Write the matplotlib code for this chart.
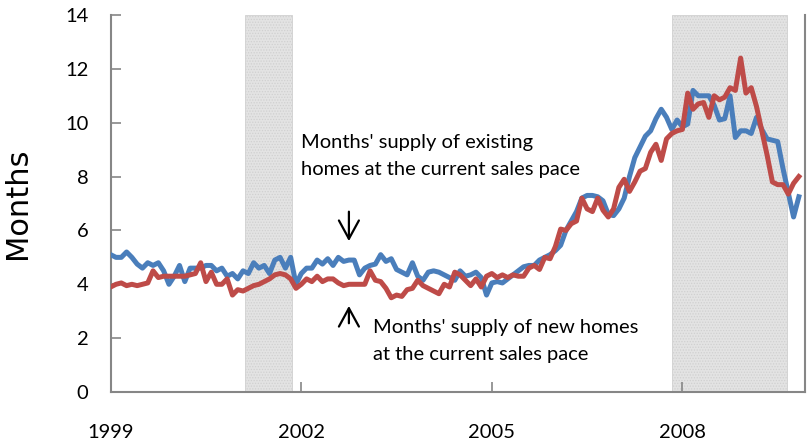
import numpy as np
import matplotlib
matplotlib.use("Agg")
import matplotlib.pyplot as plt

# Monthly values, Jan 1999 onwards
existing = [
    5.1, 5.0, 5.0, 5.2, 5.0, 4.75, 4.6, 4.8, 4.7, 4.8, 4.5, 4.0,
    4.3, 4.7, 4.1, 4.6, 4.6, 4.6, 4.7, 4.7, 4.5, 4.6, 4.3, 4.4,
    4.2, 4.5, 4.4, 4.8, 4.6, 4.7, 4.4, 4.9, 5.0, 4.6, 5.0, 4.0,
    4.4, 4.6, 4.6, 4.9, 4.75, 4.95, 4.7, 5.0, 4.85, 4.9, 4.9, 4.35,
    4.6, 4.7, 4.75, 5.1, 4.85, 4.95, 4.55, 4.45, 4.35, 4.8, 4.3, 4.15,
    4.45, 4.5, 4.45, 4.35, 4.25, 4.15, 4.5, 4.3, 4.35, 4.45, 4.25, 3.6,
    4.05, 4.1, 4.05, 4.2, 4.35, 4.5, 4.65, 4.7, 4.7, 4.9, 5.0, 5.1,
    5.25, 5.45, 6.0, 6.35, 6.7, 7.2, 7.3, 7.3, 7.25, 7.1, 6.6, 6.55,
    6.8, 7.2, 8.0, 8.7, 9.1, 9.5, 9.7, 10.15, 10.5, 10.2, 9.75, 10.1,
    9.85, 9.95, 11.2, 11.0, 11.0, 11.0, 10.65, 10.1, 10.15, 11.0, 9.45, 9.7,
    9.7, 9.6, 10.2, 9.75, 9.4, 9.35, 9.3, 8.3, 7.4, 6.5, 7.25,
]
new_homes = [
    3.9, 4.0, 4.05, 3.95, 4.0, 3.95, 4.0, 4.05, 4.5, 4.25, 4.3, 4.3,
    4.3, 4.3, 4.3, 4.35, 4.4, 4.8, 4.1, 4.45, 4.0, 4.0, 4.2, 3.6,
    3.8, 3.75, 3.85, 3.95, 4.0, 4.1, 4.2, 4.35, 4.4, 4.35, 4.2, 3.85,
    4.0, 4.2, 4.1, 4.3, 4.1, 4.2, 4.2, 4.05, 3.95, 4.0, 4.0, 4.0,
    4.0, 4.5, 4.15, 4.1, 3.85, 3.5, 3.6, 3.55, 3.8, 3.85, 4.15, 3.95,
    3.85, 3.75, 3.65, 4.0, 3.9, 4.45, 4.35, 4.15, 3.95, 4.2, 3.9, 4.3,
    4.4, 4.25, 4.35, 4.25, 4.35, 4.3, 4.3, 4.6, 4.7, 4.55, 5.0, 4.95,
    5.4, 6.05, 6.0, 6.25, 6.35, 7.2, 6.8, 6.7, 7.2, 6.75, 6.5, 6.8,
    7.6, 7.9, 7.45, 7.8, 8.2, 8.3, 8.9, 9.2, 8.6, 9.4, 9.6, 9.7,
    9.75, 11.1, 10.5, 10.7, 10.75, 10.2, 11.0, 10.85, 10.95, 11.3, 11.2, 12.4,
    11.1, 11.3, 10.6, 9.7, 8.8, 7.8, 7.7, 7.7, 7.35, 7.75, 8.0,
]
recessions = [(2001.11, 2001.85), (2007.83, 2009.64)]
year_ticks = [1999, 2002, 2005, 2008]
y_ticks = [0, 2, 4, 6, 8, 10, 12, 14]

months = 1999 + np.arange(len(existing)) / 12.0

plt.rcParams["hatch.color"] = "#c4c4c4"
plt.rcParams["hatch.linewidth"] = 0.6

fig = plt.figure(figsize=(8.11, 4.44), dpi=100)
ax = fig.add_axes([0.1365, 0.1171, 0.8561, 0.8491])

# recession bands
for start, end in recessions:
    ax.axvspan(start, end, facecolor="#e3e3e3", edgecolor="#d0d0d0",
               hatch="......", lw=0.6, zorder=0)

ax.plot(months, existing, color="#4a7ebb", lw=3.6, solid_joinstyle="round", zorder=3)
ax.plot(months, new_homes, color="#be4b48", lw=3.6, solid_joinstyle="round", zorder=4)

ax.set_xlim(1999, 2009.93)
ax.set_ylim(0, 14)
ax.set_xticks(year_ticks)
ax.set_yticks(y_ticks)

tick_font = {"family": "Lato", "size": 14.5}
ax.set_xticklabels([str(y) for y in year_ticks], fontdict=tick_font)
ax.set_yticklabels([str(v) for v in y_ticks], fontdict=tick_font)
ax.tick_params(axis="x", direction="in", length=7, width=1.2, color="#868686", pad=23)
ax.tick_params(axis="y", direction="in", length=7, width=1.2, color="#868686", pad=16)

ax.spines["top"].set_visible(False)
for side in ["left", "bottom", "right"]:
    ax.spines[side].set_color("#868686")
    ax.spines[side].set_linewidth(1.5)

ax.set_ylabel("Months", fontsize=22, family="DejaVu Sans")
ax.yaxis.set_label_coords(-0.113, 0.5)

note_font = {"family": "Lato", "size": 14.5}
ax.text(2002.0, 8.76, "Months' supply of existing\nhomes at the current sales pace",
        fontdict=note_font, va="center", ha="left", linespacing=1.7)
ax.text(2003.13, 1.88, "Months' supply of new homes\nat the current sales pace",
        fontdict=note_font, va="center", ha="left", linespacing=1.7)

arrow_style = dict(arrowstyle="->,head_length=0.55,head_width=0.3",
                   color="black", lw=1.6, mutation_scale=24)
ax.annotate("", xy=(2002.75, 5.5), xytext=(2002.75, 6.8), arrowprops=arrow_style)
ax.annotate("", xy=(2002.75, 3.3), xytext=(2002.75, 2.45), arrowprops=arrow_style)

fig.savefig("out.png", dpi=100)
